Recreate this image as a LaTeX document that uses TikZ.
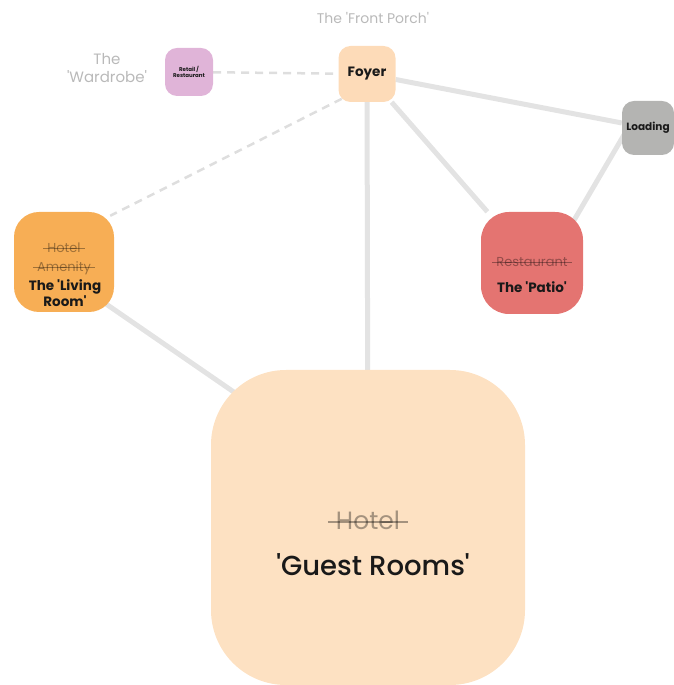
\documentclass[tikz,border=0pt]{standalone}
\usepackage{fontspec}
\setmainfont{Poppins}
\newfontfamily\medium{Poppins Medium}
\usetikzlibrary{positioning,calc,backgrounds}
\definecolor{peach}{RGB}{253,219,184}
\definecolor{cream}{RGB}{253,225,194}
\definecolor{amber}{RGB}{247,174,85}
\definecolor{coral}{RGB}{228,116,113}
\definecolor{mauve}{RGB}{224,180,216}
\definecolor{stone}{RGB}{180,180,178}
\definecolor{linkgray}{RGB}{227,227,227}
\definecolor{dashgray}{RGB}{222,222,222}
\definecolor{faint}{RGB}{185,185,185}
\newcommand{\fs}[1]{\fontsize{#1}{1.2\dimexpr#1pt\relax}\selectfont}
\newcommand{\q}{\textquotesingle}

\begin{document}
\begin{tikzpicture}[x=1pt,y=1pt]
	\tikzstyle{room}=[rectangle, inner sep=0pt, rounded corners=12pt, text=black!90]
	\tikzstyle{link}=[draw=linkgray, line width=5pt]
	\tikzstyle{future}=[draw=dashgray, line width=2.5pt, dash pattern=on 8pt off 6pt]
	\tikzstyle{tag}=[text=faint, font=\fs{14}, align=center]
	\tikzstyle{old}=[text=black, text opacity=0.35, inner sep=0pt, font=\fs{13}]
	\tikzstyle{oldline}=[draw=black, draw opacity=0.35, line width=1pt]
	\tikzstyle{new}=[text=black!90, inner sep=0pt, font=\bfseries\fs{13.5}, align=center]
	
	\useasboundingbox (0,0) rectangle (673,685);
	
	\node at (367,611) [room, fill=peach, minimum width=57pt, minimum height=56pt, font=\bfseries\fs{13.5}] (foyer) {Foyer};
	\node at (373,667) [tag] (porch) {The \q Front Porch\q};
	
	\node at (189,613) [room, fill=mauve, minimum size=48pt, font=\bfseries\fs{5.5}, align=center] (retail) {Retail /\\Restaurant};
	\node at (107,617) [tag, font=\fs{15}] (wardrobe) {The\\\q Wardrobe\q};
	
	\node at (648,557) [room, fill=stone, minimum width=52pt, minimum height=54pt, font=\bfseries\fs{10.5}] (loading) {Loading};
	
	% living room
	\node at (64,423) [room, fill=amber, rounded corners=25pt, minimum size=100pt] (living) {};
	\node at (64,437) [old] (hotel1) {Hotel};
	\node at (64,417) [old] (amenity) {Amenity};
	\node at (65,392) [new] (livingname) {The \q Living\\Room\q};
	\draw [oldline] ([shift={(-4pt,3.8pt)}]hotel1.base west) -- ([shift={(4pt,3.8pt)}]hotel1.base east);
	\draw [oldline] ([shift={(-4pt,3.8pt)}]amenity.base west) -- ([shift={(4pt,3.8pt)}]amenity.base east);
	
	% patio
	\node at (532,422) [room, fill=coral, rounded corners=28pt, minimum size=102pt] (patio) {};
	\node at (532,423) [old] (restaurant) {Restaurant};
	\node at (532,398) [new] (pationame) {The \q Patio\q};
	\draw [oldline] ([shift={(-4pt,3.8pt)}]restaurant.base west) -- ([shift={(4pt,3.8pt)}]restaurant.base east);
	
	% guest rooms
	\node at (368,157.5) [room, fill=cream, rounded corners=75pt, minimum width=314pt, minimum height=315pt] (guest) {};
	\node at (368,165) [old, font=\fs{25}] (hotel2) {Hotel};
	\node at (373,120) [new, font=\medium\fs{27.5}] (guestname) {\q Guest Rooms\q};
	\draw [oldline, line width=1.6pt] ([shift={(-8pt,7pt)}]hotel2.base west) -- ([shift={(8pt,7pt)}]hotel2.base east);
	
	% links sit behind the rooms
	\begin{pgfonlayer}{background}
		\draw [future] (retail) -- (foyer);
		\draw [future] ($(foyer.south west)!.12!(foyer.center)$) -- ($(living.north east)!.08!(living.center)$);
		\draw [link] (foyer) -- (guest);
		\draw [link] (foyer) -- (patio);
		\draw [link] (foyer) -- (loading);
		\draw [link] ([xshift=-20pt]loading.center) -- ([xshift=17pt]patio.center);
		\draw [link] ([yshift=-13pt]living.center) -- ([yshift=43pt]guest.center);
	\end{pgfonlayer}
\end{tikzpicture}
\end{document}
